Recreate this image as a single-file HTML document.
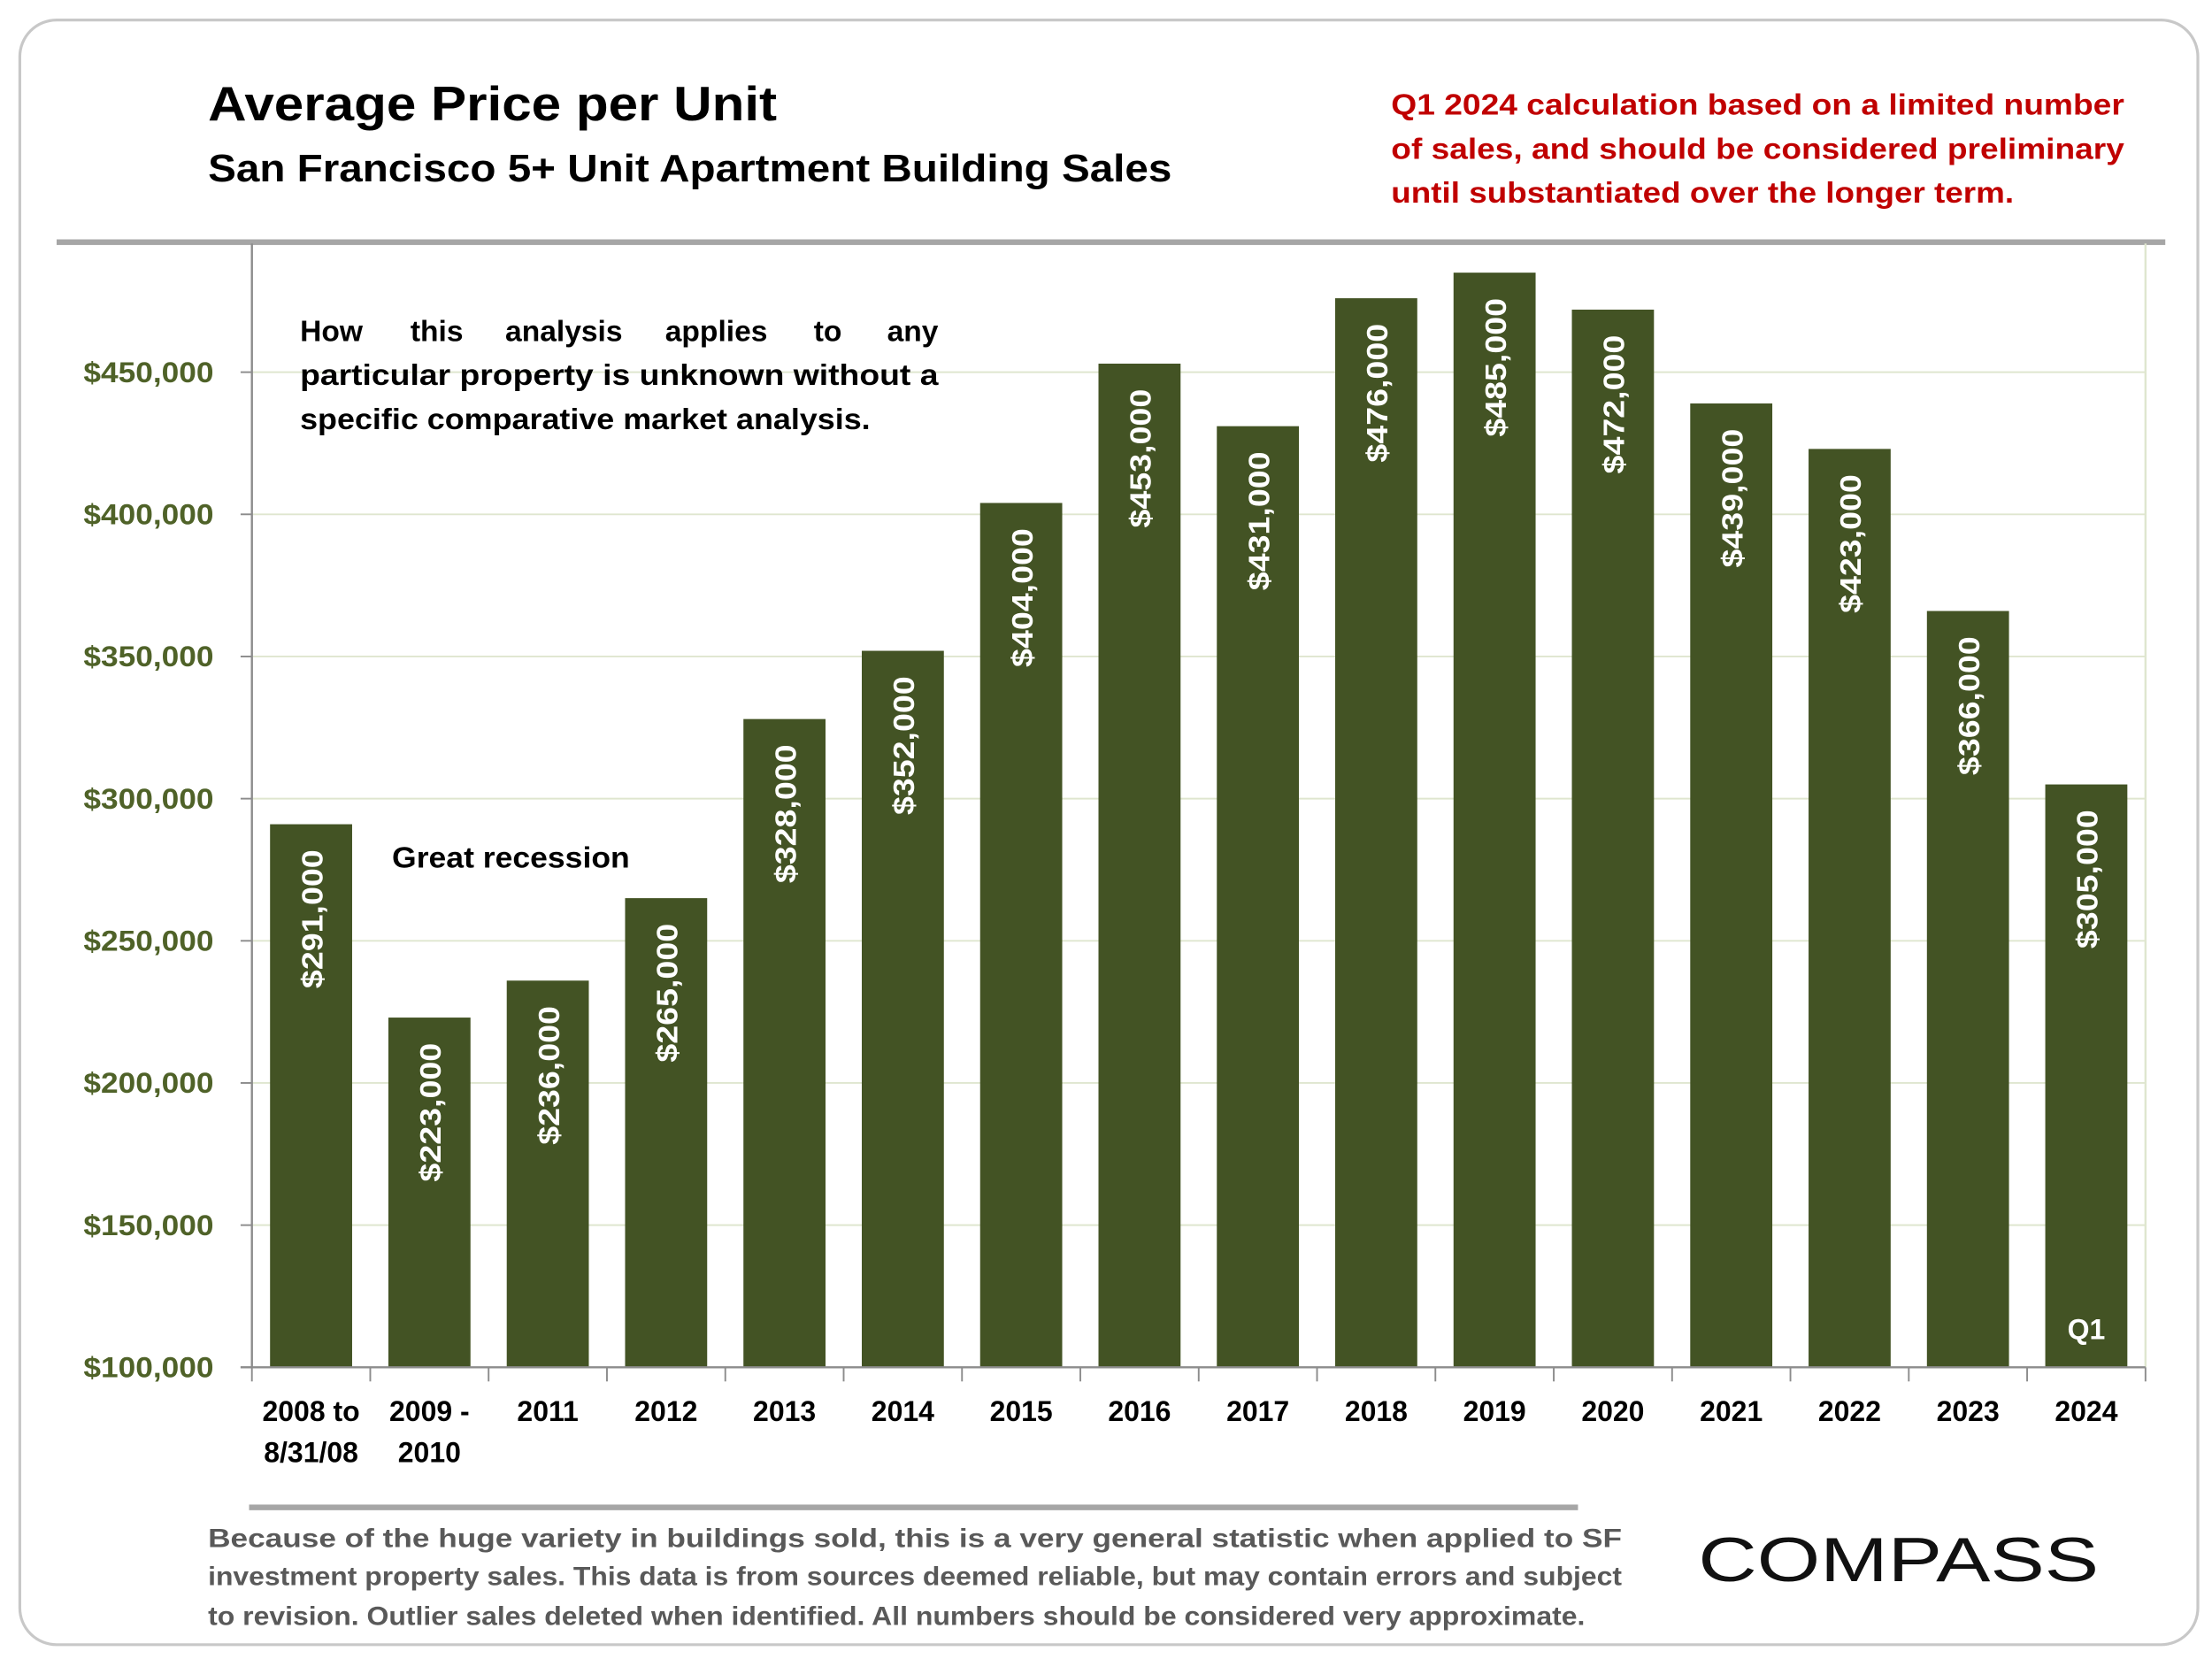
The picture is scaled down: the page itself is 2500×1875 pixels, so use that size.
<!DOCTYPE html>
<html><head><meta charset="utf-8"><style>
html,body{margin:0;padding:0;background:#fff;}
svg{display:block;font-family:"Liberation Sans",Arial,sans-serif;font-weight:bold;}
</style></head><body>
<svg id="chart" width="2500" height="1875" viewBox="0 0 1563 1172" xmlns="http://www.w3.org/2000/svg">
<rect x="14" y="14" width="1539" height="1148" rx="26" fill="#fff" stroke="#c8c8c8" stroke-width="2"/>
<text x="147" y="85" font-size="34" fill="#000" textLength="402" lengthAdjust="spacingAndGlyphs">Average Price per Unit</text>
<text x="147" y="128" font-size="27" fill="#000" textLength="681" lengthAdjust="spacingAndGlyphs">San Francisco 5+ Unit Apartment Building Sales</text>
<g fill="#c00000" font-size="21">
<text x="983" y="81" textLength="518" lengthAdjust="spacingAndGlyphs">Q1 2024 calculation based on a limited number</text>
<text x="983" y="112" textLength="518" lengthAdjust="spacingAndGlyphs">of sales, and should be considered preliminary</text>
<text x="983" y="143" textLength="440" lengthAdjust="spacingAndGlyphs">until substantiated over the longer term.</text>
</g>
<rect x="40" y="169" width="1490" height="4" fill="#a6a6a6"/>
<g id="plot"></g>
<g font-size="21" fill="#000">
<text x="212" y="241">How</text>
<text x="290" y="241">this</text>
<text x="357" y="241">analysis</text>
<text x="470" y="241">applies</text>
<text x="575" y="241">to</text>
<text x="663" y="241" text-anchor="end">any</text>
<text x="212" y="272" textLength="451" lengthAdjust="spacingAndGlyphs">particular property is unknown without a</text>
<text x="212" y="303" textLength="403" lengthAdjust="spacingAndGlyphs">specific comparative market analysis.</text>
</g>
<text x="277" y="613" font-size="21" fill="#000" textLength="168" lengthAdjust="spacingAndGlyphs">Great recession</text>
<rect x="176" y="1063" width="939" height="4" fill="#a6a6a6"/>
<g font-size="18.5" fill="#595959">
<text x="147" y="1093" textLength="999" lengthAdjust="spacingAndGlyphs">Because of the huge variety in buildings sold, this is a very general statistic when applied to SF</text>
<text x="147" y="1120" textLength="999" lengthAdjust="spacingAndGlyphs">investment property sales. This data is from sources deemed reliable, but may contain errors and subject</text>
<text x="147" y="1148" textLength="973" lengthAdjust="spacingAndGlyphs">to revision. Outlier sales deleted when identified. All numbers should be considered very approximate.</text>
</g>
<text x="1200" y="1117" font-size="44" font-weight="normal" fill="#111" textLength="283" lengthAdjust="spacingAndGlyphs">COMPASS</text>
</svg>
<script>
const categories = [["2008 to","8/31/08"],["2009 -","2010"],["2011"],["2012"],["2013"],["2014"],["2015"],["2016"],["2017"],["2018"],["2019"],["2020"],["2021"],["2022"],["2023"],["2024"]];
const values = [291000,223000,236000,265000,328000,352000,404000,453000,431000,476000,485000,472000,439000,423000,366000,305000];
const yTicks = [100000,150000,200000,250000,300000,350000,400000,450000];
const yTickLabels = ["$100,000","$150,000","$200,000","$250,000","$300,000","$350,000","$400,000","$450,000"];

const NS = "http://www.w3.org/2000/svg";
const plot = document.getElementById("plot");
const X0 = 178, X1 = 1516, Y0 = 966, YMIN = 100000, PX_PER = 100.45/50000;
const step = (X1 - X0) / categories.length;
function yScale(v){ return Y0 - (v - YMIN) * PX_PER; }
function xCenter(i){ return X0 + step * (i + 0.5); }
function mk(tag, attrs){ const e = document.createElementNS(NS, tag); for (const k in attrs) e.setAttribute(k, attrs[k]); plot.appendChild(e); return e; }

yTicks.forEach((t, i) => {
  const y = yScale(t);
  if (i > 0) {
    const g = mk("line", {x1: X0, x2: X1, y1: y, y2: y, stroke: "#dfe6cf", "stroke-width": 1.2});
    
    
  }
  const tk = mk("line", {x1: X0 - 8, x2: X0, y1: y, y2: y, stroke: "#8c8c8c", "stroke-width": 1.2});
  
  
  const lb = mk("text", {x: 151, y: y + 7, "text-anchor": "end", "font-size": 20, fill: "#4f6228", textLength: 92, lengthAdjust: "spacingAndGlyphs"});
  lb.textContent = yTickLabels[i];
  
  
});
const rb = mk("line", {x1: X1, x2: X1, y1: 172, y2: Y0, stroke: "#dfe6cf", "stroke-width": 1.5});



const bw = 58;
values.forEach((v, i) => {
  const cx = xCenter(i), top = yScale(v);
  const r = mk("rect", {x: cx - bw/2, y: top, width: bw, height: Y0 - top, fill: "#435324"});
  
  
  const t = mk("text", {x: 0, y: 0, transform: `translate(${cx + 8},${top + 18}) rotate(-90)`, "text-anchor": "end", "font-size": 21, fill: "#fff", textLength: 98, lengthAdjust: "spacingAndGlyphs"});
  t.textContent = "$" + v.toLocaleString("en-US");
  
  
});

const ya = mk("line", {x1: X0, x2: X0, y1: 172, y2: Y0, stroke: "#8c8c8c", "stroke-width": 1.5});


const xa = mk("line", {x1: X0 - 8, x2: X1, y1: Y0, y2: Y0, stroke: "#8c8c8c", "stroke-width": 1.5});


for (let i = 0; i <= categories.length; i++) {
  const x = X0 + step * i;
  const tk = mk("line", {x1: x, x2: x, y1: Y0, y2: Y0 + 10, stroke: "#8c8c8c", "stroke-width": 1.2});
  
  
}
categories.forEach((c, i) => {
  c.forEach((line, j) => {
    const t = mk("text", {x: xCenter(i), y: 1004 + j * 29, "text-anchor": "middle", "font-size": 20, fill: "#000"});
    t.textContent = line;
    
    
  });
});
const q1 = mk("text", {x: xCenter(categories.length - 1), y: 946, "text-anchor": "middle", "font-size": 20, fill: "#fff"});
q1.textContent = "Q1";


</script>
</body></html>
